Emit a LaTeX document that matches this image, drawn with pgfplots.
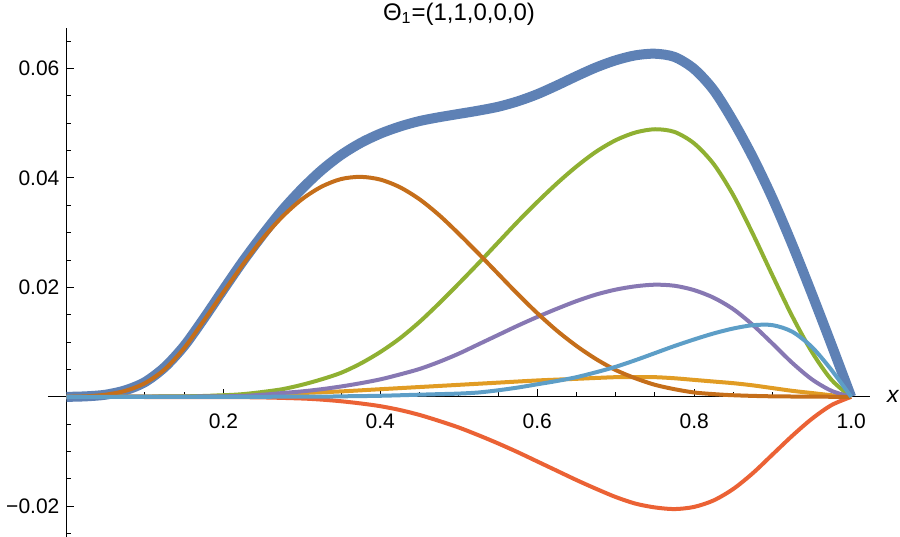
\documentclass[border=0pt]{standalone}
\usepackage{fontspec}
\setmainfont{Liberation Sans}
\usepackage{pgfplots}
\pgfplotsset{compat=1.18}

% Mathematica default palette
\definecolor{mmaA}{HTML}{5E81B5}
\definecolor{mmaB}{HTML}{E19C24}
\definecolor{mmaC}{HTML}{8FB032}
\definecolor{mmaD}{HTML}{EB6235}
\definecolor{mmaE}{HTML}{8778B3}
\definecolor{mmaF}{HTML}{C56E1A}
\definecolor{mmaG}{HTML}{5D9EC7}

\begin{document}
\begin{tikzpicture}
\begin{axis}[
  name=ax,
  scale only axis, width=411pt, height=254.5pt,
  xmin=-0.0235, xmax=1.024, ymin=-0.0256, ymax=0.0674,
  axis lines=middle, axis line style={-, line width=0.6pt, black},
  tick align=inside,
  scaled y ticks=false,
  xtick={0.2,0.4,0.6,0.8,1.0}, xticklabels={0.2,0.4,0.6,0.8,1.0},
  minor xtick={0.05,0.1,0.15,0.25,0.3,0.35,0.45,0.5,0.55,0.65,0.7,0.75,0.85,0.9,0.95},
  ytick={-0.02,0.02,0.04,0.06}, yticklabels={−0.02,0.02,0.04,0.06},
  minor ytick={-0.025,-0.015,-0.01,-0.005,0.005,0.01,0.015,0.025,0.03,0.035,0.045,0.05,0.055,0.065},
  major tick length=3.7pt, minor tick length=2.3pt,
  every tick/.style={black, line width=0.5pt},
  tick label style={font=\fontsize{10.5}{12}\selectfont},
  xticklabel style={yshift=-5pt},
  title={Θ\textsubscript{1}=(1,1,0,0,0)},
  title style={at={(axis description cs:0.5,1)}, anchor=center, yshift=1pt, font=\fontsize{12}{14}\selectfont},
  xlabel={\itshape x},
  every axis x label/.style={at={(current axis.right of origin)}, anchor=west, xshift=5pt, font=\fontsize{11.5}{13}\selectfont},
  every axis plot/.append style={smooth, line join=round},
]
% total
\addplot[mmaA, line width=5pt] coordinates {
  (0,0) (0.025,0.0001) (0.05,0.0004) (0.075,0.0012) (0.1,0.0027) (0.125,0.0054)
  (0.15,0.0093) (0.175,0.0143) (0.2,0.0196) (0.225,0.0248) (0.25,0.0296)
  (0.275,0.0341) (0.3,0.038) (0.325,0.0414) (0.35,0.0442) (0.375,0.0464)
  (0.4,0.0481) (0.425,0.0494) (0.45,0.0504) (0.475,0.0511) (0.5,0.0517)
  (0.525,0.0523) (0.55,0.053) (0.575,0.054) (0.6,0.0553) (0.625,0.0569)
  (0.65,0.0586) (0.675,0.0602) (0.7,0.0615) (0.725,0.0624) (0.75,0.0627)
  (0.775,0.0621) (0.8,0.0599) (0.825,0.056) (0.85,0.0503) (0.875,0.0437)
  (0.9,0.0362) (0.925,0.0278) (0.95,0.0188) (0.975,0.0095) (1,0) };
% orange
\addplot[mmaB, line width=2pt] coordinates {
  (0,0) (0.15,0.0001) (0.2,0.0002) (0.25,0.0004) (0.3,0.0007) (0.35,0.001)
  (0.4,0.0014) (0.45,0.0018) (0.5,0.0022) (0.55,0.0026) (0.6,0.003) (0.65,0.0033)
  (0.7,0.0036) (0.725,0.0036) (0.75,0.0036) (0.775,0.0034) (0.8,0.0031)
  (0.825,0.0028) (0.85,0.0025) (0.875,0.0021) (0.9,0.0016) (0.925,0.0011)
  (0.95,0.0007) (0.975,0.0003) (1,0) };
% green
\addplot[mmaC, line width=2pt] coordinates {
  (0,0) (0.15,0.0001) (0.2,0.0003) (0.225,0.0005) (0.25,0.0009) (0.275,0.0014)
  (0.3,0.0022) (0.325,0.0032) (0.35,0.0044) (0.375,0.0061) (0.4,0.0082)
  (0.425,0.0107) (0.45,0.0137) (0.475,0.0171) (0.5,0.0207) (0.525,0.0244)
  (0.55,0.0282) (0.575,0.032) (0.6,0.0356) (0.625,0.039) (0.65,0.0421)
  (0.675,0.0448) (0.7,0.0469) (0.725,0.0483) (0.75,0.0489) (0.775,0.0484)
  (0.8,0.0463) (0.825,0.0425) (0.85,0.0368) (0.875,0.0297) (0.9,0.0221)
  (0.925,0.0147) (0.95,0.0082) (0.975,0.0031) (1,0) };
% red
\addplot[mmaD, line width=2pt] coordinates {
  (0,0) (0.2,-0.00005) (0.25,-0.0001) (0.3,-0.0003) (0.325,-0.0005) (0.35,-0.0008)
  (0.375,-0.0012) (0.4,-0.0017) (0.425,-0.0024) (0.45,-0.0033) (0.475,-0.0044)
  (0.5,-0.0056) (0.525,-0.007) (0.55,-0.0085) (0.575,-0.0101) (0.6,-0.0118)
  (0.625,-0.0135) (0.65,-0.0152) (0.675,-0.0168) (0.7,-0.0183) (0.725,-0.0195)
  (0.75,-0.0202) (0.775,-0.0205) (0.8,-0.0201) (0.825,-0.0189) (0.85,-0.0168)
  (0.875,-0.0139) (0.9,-0.0105) (0.925,-0.0071) (0.95,-0.004) (0.975,-0.0015) (1,0) };
% purple
\addplot[mmaE, line width=2pt] coordinates {
  (0,0) (0.2,0.0001) (0.25,0.0004) (0.275,0.0007) (0.3,0.001) (0.325,0.0014)
  (0.35,0.0019) (0.375,0.0025) (0.4,0.0032) (0.425,0.0041) (0.45,0.0051)
  (0.475,0.0064) (0.5,0.0079) (0.525,0.0096) (0.55,0.0113) (0.575,0.013)
  (0.6,0.0146) (0.625,0.0161) (0.65,0.0175) (0.675,0.0187) (0.7,0.0196)
  (0.725,0.0202) (0.75,0.0205) (0.775,0.0203) (0.8,0.0195) (0.825,0.0181)
  (0.85,0.016) (0.875,0.0131) (0.9,0.0097) (0.925,0.0062) (0.95,0.0032)
  (0.975,0.0011) (1,0) };
% brown
\addplot[mmaF, line width=2pt] coordinates {
  (0,0) (0.025,0.0001) (0.05,0.0004) (0.075,0.0011) (0.1,0.0025) (0.125,0.005)
  (0.15,0.0089) (0.175,0.0139) (0.2,0.0191) (0.225,0.0242) (0.25,0.0289)
  (0.275,0.0329) (0.3,0.0361) (0.325,0.0384) (0.35,0.0398) (0.375,0.0402)
  (0.4,0.0397) (0.425,0.0383) (0.45,0.0361) (0.475,0.0332) (0.5,0.0298)
  (0.525,0.0262) (0.55,0.0225) (0.575,0.0188) (0.6,0.0153) (0.625,0.0121)
  (0.65,0.0093) (0.675,0.0069) (0.7,0.0049) (0.725,0.0034) (0.75,0.0022)
  (0.775,0.0014) (0.8,0.0008) (0.825,0.0005) (0.85,0.0003) (0.9,0.0001) (1,0) };
% light blue
\addplot[mmaG, line width=2pt] coordinates {
  (0,0) (0.3,0.00003) (0.35,0.0001) (0.4,0.0002) (0.45,0.0004) (0.475,0.0005)
  (0.5,0.0006) (0.525,0.0008) (0.55,0.0012) (0.575,0.0017) (0.6,0.0023)
  (0.625,0.0029) (0.65,0.0036) (0.675,0.0045) (0.7,0.0055) (0.725,0.0067)
  (0.75,0.008) (0.775,0.0093) (0.8,0.0105) (0.825,0.0116) (0.85,0.0125)
  (0.875,0.0131) (0.9,0.0131) (0.925,0.0119) (0.95,0.0091) (0.975,0.0049) (1,0) };
\end{axis}
\pgfresetboundingbox
\path ([xshift=-24pt]ax.south west) rectangle ([xshift=15pt, yshift=14pt]ax.north east);
\end{tikzpicture}
\end{document}
